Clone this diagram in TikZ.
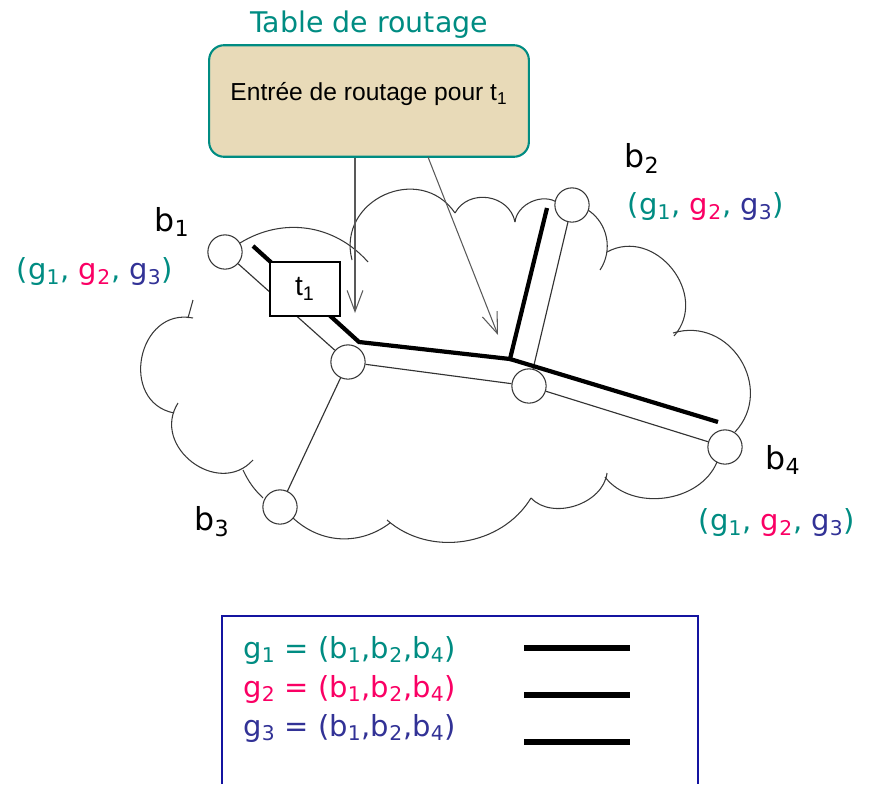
\documentclass[tikz,border=0pt]{standalone}
\usepackage{fontspec}
\setmainfont{DejaVu Sans}
\newfontfamily\arialfont{Liberation Sans}
\usetikzlibrary{arrows.meta}
\definecolor{gteal}{RGB}{0,140,130}
\definecolor{gpink}{RGB}{250,0,100}
\definecolor{gblue}{RGB}{50,50,150}
\definecolor{parchment}{RGB}{232,218,184}
\definecolor{legendblue}{RGB}{20,20,160}
\newcommand{\sbs}[1]{\textsubscript{#1}}
\newcommand{\gtriple}{(g\sbs{1}, \textcolor{gpink}{g\sbs{2}}, \textcolor{gblue}{g\sbs{3}})}
\tikzset{
  router/.style={circle, draw=black!80, fill=white, line width=0.6pt, minimum size=19.5pt, inner sep=0pt},
  link/.style={draw=black!80, line width=0.65pt},
  tree/.style={line width=2.4pt},
  cloudline/.style={draw=black!78, line width=0.6pt},
  ptr/.style={draw=black!65, line width=0.6pt, -{Straight Barb[length=12pt,width=9pt]}},
  lbl/.style={font=\fontsize{18}{21}\selectfont, inner sep=0pt},
  triple/.style={font=\fontsize{16.5}{20}\selectfont, text=gteal, inner sep=0pt},
}
\begin{document}
\begin{tikzpicture}[x=0.02cm, y=-0.02cm]
    \useasboundingbox (0,0) rectangle (875,784);

    % the cloud
    \foreach \sx/\sy/\ex/\ey/\bend/\loose in {240/243/368/262/40/1, 352/260/455/213/80/1.4,
        455/213/515/222/70/1.2, 515/222/558/203/60/1, 588/210/600/270/45/1,
        607/252/674/336/80/1.3, 673/333/735/432/75/1.3, 717/462/605/477/60/1,
        607/473/531/498/65/1, 531/498/387/520/50/1, 390/523/293/518/40/1,
        263/498/243/470/10/1, 253/460/178/403/85/1.4, 174/413/193/318/90/1.5}
        \draw[cloudline] (\sx,\sy) to[bend left=\bend, looseness=\loose] (\ex,\ey);
    \draw[cloudline] (193,300) -- (188,318);

    % routers
    \node[router] (b1) at (225,252) {};
    \node[router] (b2) at (572,205) {};
    \node[router] (b3) at (280,507) {};
    \node[router] (b4) at (725,447) {};
    \node[router] (m1) at (348,362) {};
    \node[router] (m2) at (529,386) {};

    \draw[link] (b1) -- (m1);
    \draw[link] (m1) -- (m2);
    \draw[link] (m2) -- (b2);
    \draw[link] (m2) -- (b4);
    \draw[link] (m1) -- (b3);

    % multicast tree
    \coordinate (tA) at (253,246);
    \coordinate (tB) at (359,342);
    \coordinate (tJ) at (510,359);
    \coordinate (tC) at (547,208);
    \coordinate (tD) at (718,422);
    \draw[tree] (tA) -- (tB) -- (tJ) -- (tC);
    \draw[tree] (tJ) -- (tD);

    \node[draw, fill=white, line width=0.9pt, minimum width=40pt, minimum height=30.5pt,
        font=\arialfont\fontsize{16}{18}\selectfont] (t1) at (305,289) {t\sbs{1}};

    % routing table
    \node[text=gteal, font=\fontsize{16.2}{19}\selectfont] (title) at (369,25) {Table de routage};
    \node[draw=gteal, fill=parchment, line width=1.2pt, rounded corners=8.5pt,
        minimum width=182pt, minimum height=63.5pt] (table) at (369,101) {};
    \node[font=\arialfont\fontsize{14}{16}\selectfont] (entry) at (369,94) {Entrée de routage pour t\sbs{1}};

    \coordinate (tip1) at (355,313);
    \coordinate (src2) at (428,157);
    \coordinate (tip2) at (498,335);
    \draw[ptr] (table.south -| tip1) -- (tip1);
    \draw[ptr] (src2) -- (tip2);

    % labels
    \node[lbl] (lb1) at (172,222) {b\sbs{1}};
    \node[triple] (gb1) at (95,272) {\gtriple};
    \node[lbl] (lb2) at (642,158) {b\sbs{2}};
    \node[triple] (gb2) at (706,207) {\gtriple};
    \node[lbl] (lb3) at (212,522) {b\sbs{3}};
    \node[lbl] (lb4) at (783,460) {b\sbs{4}};
    \node[triple] (gb4) at (777,523) {\gtriple};

    % legend
    \draw[legendblue, line width=1.2pt] (222,784) -- (222,616) -- (698,616) -- (698,784);
    \node[triple, anchor=west, text=gteal] (leg1) at (243,650) {g\sbs{1} = (b\sbs{1},b\sbs{2},b\sbs{4})};
    \node[triple, anchor=west, text=gpink] (leg2) at (243,689) {g\sbs{2} = (b\sbs{1},b\sbs{2},b\sbs{4})};
    \node[triple, anchor=west, text=gblue] (leg3) at (243,728) {g\sbs{3} = (b\sbs{1},b\sbs{2},b\sbs{4})};
    \draw[line width=3.4pt] (524,648) -- (630,648);
    \draw[line width=3.4pt] (524,695) -- (630,695);
    \draw[line width=3.4pt] (524,742) -- (630,742);
\end{tikzpicture}
\end{document}
